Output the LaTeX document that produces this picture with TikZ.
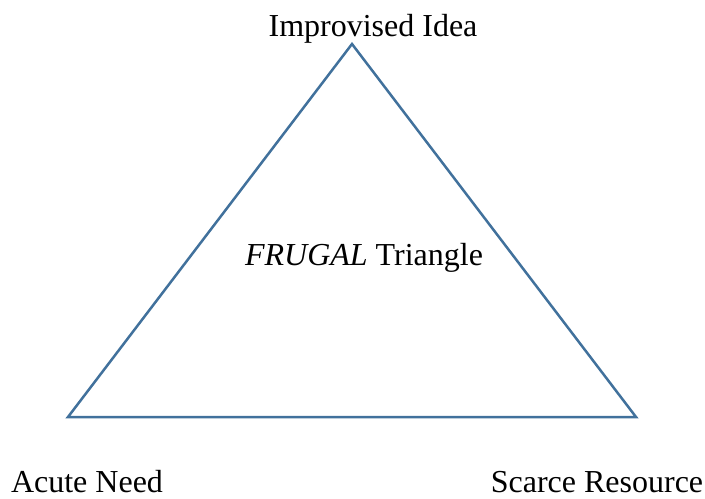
\documentclass[tikz,border=0pt]{standalone}
\usepackage{fontspec}
\setmainfont{Liberation Serif}
\usepackage{tikz}
\usetikzlibrary{positioning}
\definecolor{edgeblue}{RGB}{65,113,156}
\tikzset{corner/.style={anchor=base, font=\fontsize{16}{19}\selectfont, inner sep=0pt}}

\begin{document}
\begin{tikzpicture}[x=0.5pt, y=-0.5pt]
                \useasboundingbox (0,0) rectangle (705,498);
                \coordinate (T) at (352,44);
                \coordinate (L) at (68,417);
                \coordinate (R) at (636,417);
                \draw [edgeblue, line width=1.25pt, line join=miter] (T) -- (L) -- (R) -- cycle;
                \node [corner] (idea) at (373,36) {Improvised Idea};
                \node [corner] (need) at (87,492) {Acute Need};
                \node [corner] (res) at (597,492) {Scarce Resource};
                \node [corner] (tri) at (364,265) {\textit{FRUGAL} Triangle};
            \end{tikzpicture}
\end{document}
